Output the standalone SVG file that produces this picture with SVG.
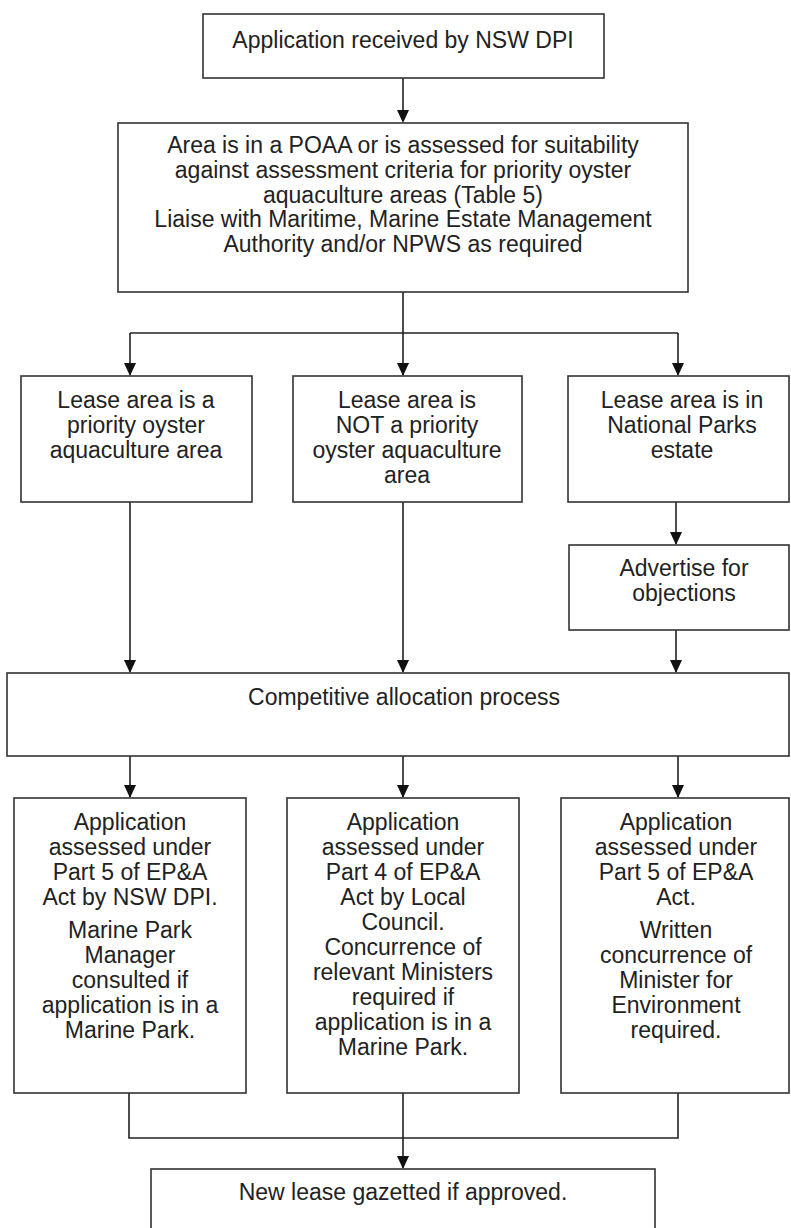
<svg xmlns="http://www.w3.org/2000/svg" width="791" height="1228" viewBox="0 0 791 1228">
<style>
.box{fill:#fff;stroke:#333;stroke-width:1.6}
.t{font-family:"Liberation Sans",Arial,sans-serif;font-size:23px;fill:#222;text-anchor:middle}
.c{fill:none;stroke:#222;stroke-width:1.6}
.ah{fill:#111}
</style>
<rect width="791" height="1228" fill="#fff"/>
<g id="connectors">
<path class="c" d="M403,78 V121"/>
<path class="c" d="M403,292 V333 M130,333 H678 M130,333 V375 M403,333 V375 M678,333 V375"/>
<path class="c" d="M676,502 V544"/>
<path class="c" d="M676,630 V672 M130,502 V672 M403,502 V672"/>
<path class="c" d="M130,756 V797 M403,756 V797 M678,756 V797"/>
<path class="c" d="M129,1093 V1138 H678 V1093 M403,1093 V1168"/>
<g class="ah">
<polygon points="397,110 409,110 403,123"/>
<polygon points="124,363 136,363 130,376"/>
<polygon points="397,363 409,363 403,376"/>
<polygon points="672,363 684,363 678,376"/>
<polygon points="670,532 682,532 676,545"/>
<polygon points="124,660 136,660 130,673"/>
<polygon points="397,660 409,660 403,673"/>
<polygon points="670,660 682,660 676,673"/>
<polygon points="124,785 136,785 130,798"/>
<polygon points="397,785 409,785 403,798"/>
<polygon points="672,785 684,785 678,798"/>
<polygon points="397,1156 409,1156 403,1169"/>
</g>
</g>
<g id="n1"><rect class="box" x="203" y="14" width="401" height="64"/>
<text class="t" x="403" y="48">Application received by NSW DPI</text></g>
<g id="n2"><rect class="box" x="118" y="123" width="570" height="169"/>
<text class="t" x="403" y="153">Area is in a POAA or is assessed for suitability</text>
<text class="t" x="403" y="177.75">against assessment criteria for priority oyster</text>
<text class="t" x="403" y="202.5">aquaculture areas (Table 5)</text>
<text class="t" x="403" y="227.25">Liaise with Maritime, Marine Estate Management</text>
<text class="t" x="403" y="252">Authority and/or NPWS as required</text></g>
<g id="n3"><rect class="box" x="21" y="376" width="231" height="126"/>
<text class="t" x="136" y="408">Lease area is a</text>
<text class="t" x="136" y="433">priority oyster</text>
<text class="t" x="136" y="458">aquaculture area</text></g>
<g id="n4"><rect class="box" x="293" y="376" width="229" height="126"/>
<text class="t" x="407" y="408">Lease area is</text>
<text class="t" x="407" y="433">NOT a priority</text>
<text class="t" x="407" y="458">oyster aquaculture</text>
<text class="t" x="407" y="483">area</text></g>
<g id="n5"><rect class="box" x="568" y="376" width="221" height="126"/>
<text class="t" x="682" y="408">Lease area is in</text>
<text class="t" x="682" y="433">National Parks</text>
<text class="t" x="682" y="458">estate</text></g>
<g id="n6"><rect class="box" x="569" y="545" width="220" height="85"/>
<text class="t" x="684" y="576">Advertise for</text>
<text class="t" x="684" y="601">objections</text></g>
<g id="n7"><rect class="box" x="7" y="673" width="782" height="83"/>
<text class="t" x="404" y="705">Competitive allocation process</text></g>
<g id="n8"><rect class="box" x="14" y="798" width="232" height="295"/>
<text class="t" x="130" y="830">Application</text>
<text class="t" x="130" y="855">assessed under</text>
<text class="t" x="130" y="880">Part 5 of EP&amp;A</text>
<text class="t" x="130" y="905">Act by NSW DPI.</text>
<text class="t" x="130" y="938">Marine Park</text>
<text class="t" x="130" y="963">Manager</text>
<text class="t" x="130" y="988">consulted if</text>
<text class="t" x="130" y="1013">application is in a</text>
<text class="t" x="130" y="1038">Marine Park.</text></g>
<g id="n9"><rect class="box" x="287" y="798" width="232" height="295"/>
<text class="t" x="403" y="830">Application</text>
<text class="t" x="403" y="855">assessed under</text>
<text class="t" x="403" y="880">Part 4 of EP&amp;A</text>
<text class="t" x="403" y="905">Act by Local</text>
<text class="t" x="403" y="930">Council.</text>
<text class="t" x="403" y="955">Concurrence of</text>
<text class="t" x="403" y="980">relevant Ministers</text>
<text class="t" x="403" y="1005">required if</text>
<text class="t" x="403" y="1030">application is in a</text>
<text class="t" x="403" y="1055">Marine Park.</text></g>
<g id="n10"><rect class="box" x="561" y="798" width="228" height="295"/>
<text class="t" x="676" y="830">Application</text>
<text class="t" x="676" y="855">assessed under</text>
<text class="t" x="676" y="880">Part 5 of EP&amp;A</text>
<text class="t" x="676" y="905">Act.</text>
<text class="t" x="676" y="938">Written</text>
<text class="t" x="676" y="963">concurrence of</text>
<text class="t" x="676" y="988">Minister for</text>
<text class="t" x="676" y="1013">Environment</text>
<text class="t" x="676" y="1038">required.</text></g>
<g id="n11"><rect class="box" x="151" y="1169" width="504" height="70"/>
<text class="t" x="403" y="1200">New lease gazetted if approved.</text></g>
</svg>
